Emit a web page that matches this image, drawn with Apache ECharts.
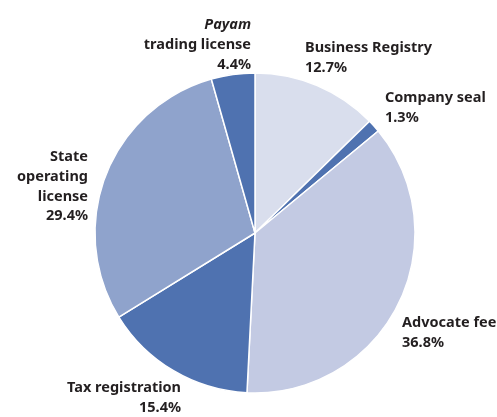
<!DOCTYPE html>
<html><head><meta charset="utf-8">
<script src="https://cdn.jsdelivr.net/npm/echarts@6/dist/echarts.min.js"></script>
<style>html,body{margin:0;padding:0;background:#fff}#c{width:497px;height:417px}</style>
</head><body><div id="c"></div>
<script>
const categories = ['Business Registry', 'Company seal', 'Advocate fee', 'Tax registration', 'State operating license', 'Payam trading license'];
const values = [12.7, 1.3, 36.8, 15.4, 29.4, 4.4];
const labelLines = [['Business Registry'], ['Company seal'], ['Advocate fee'], ['Tax registration'], ['State', 'operating', 'license'], ['Payam', 'trading license']];
const colors = ['#d9deed', '#4f72b0', '#c3cae3', '#4f72b0', '#8fa3cc', '#4f72b0'];
// label anchor positions (layout only)
const labelPos = [
  {x: 305, y: 38, align: 'left'},
  {x: 385, y: 88, align: 'left'},
  {x: 402, y: 313, align: 'left'},
  {x: 181, y: 378, align: 'right'},
  {x: 88, y: 147, align: 'right'},
  {x: 251, y: 15, align: 'right'}
];
const chart = echarts.init(document.getElementById('c'), null, {renderer: 'canvas'});
const FONT = '"Noto Sans", sans-serif';
chart.setOption({
  animation: false,
  series: [{
    type: 'pie',
    center: [255, 233],
    radius: [0, 160],
    startAngle: 90,
    clockwise: true,
    avoidLabelOverlap: false,
    itemStyle: {borderColor: '#fff', borderWidth: 1.5},
    labelLine: {show: false},
    label: {
      show: true,
      position: 'outside',
      fontFamily: FONT,
      color: '#231f20',
      formatter: function (p) {
        const lines = labelLines[p.dataIndex];
        const parts = lines.map(function (l, i) {
          return (p.dataIndex === 5 && i === 0) ? '{i|' + l + '}' : '{b|' + l + '}';
        });
        parts.push('{b|' + values[p.dataIndex].toFixed(1) + '%}');
        return parts.join('\n');
      },
      rich: {
        b: {fontFamily: FONT, fontWeight: 'bold', fontSize: 14.5, lineHeight: 19.8, color: '#231f20'},
        i: {fontFamily: FONT, fontWeight: 'bold', fontStyle: 'italic', fontSize: 14.5, lineHeight: 19.8, color: '#231f20'}
      }
    },
    labelLayout: function (params) {
      const lp = labelPos[params.dataIndex];
      return {x: lp.x, y: lp.y, align: lp.align, verticalAlign: 'top'};
    },
    data: categories.map(function (c, i) {
      return {name: c, value: values[i], itemStyle: {color: colors[i]}, label: {align: labelPos[i].align}};
    })
  }]
});
</script>
</body></html>
